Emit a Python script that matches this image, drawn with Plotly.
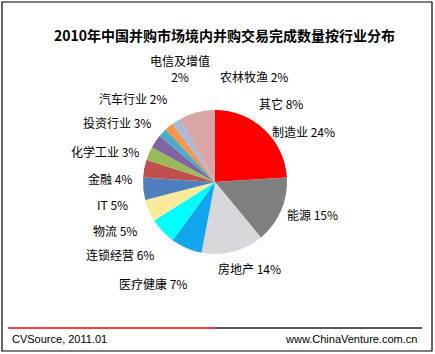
import plotly.graph_objects as go

W, H = 435, 354

categories = ["制造业", "能源", "房地产", "医疗健康", "连锁经营", "物流", "IT", "金融",
              "化学工业", "投资行业", "汽车行业", "电信及增值", "农林牧渔", "其它"]
shares = [24, 15, 14, 7, 6, 5, 5, 4, 3, 3, 2, 2, 2, 8]

colors = ["#ff0000", "#7f7f7f", "#d8d8dc", "#12a6ec", "#00ffff", "#f9eb99", "#4f7fbd",
          "#c0504d", "#9bbb59", "#8064a2", "#4bacc6", "#f79646", "#a9badb", "#d9a5a5"]

# label centre positions in pixels (layout only)
label_pos = [(303, 131), (312, 214), (249, 268), (153, 283), (120, 254), (115, 230),
             (113, 204), (110, 178), (105, 151), (117, 123), (133, 98), (180, 68),
             (254, 76), (281, 103)]

def px(x):
    return x / W

def py(y):
    return 1 - y / H

cx, cy, r = 215, 182, 72

fig = go.Figure(go.Pie(
    labels=categories,
    values=shares,
    sort=False,
    direction="clockwise",
    rotation=0,
    textinfo="none",
    hoverinfo="label+percent",
    marker=dict(colors=colors, line=dict(width=0)),
    domain=dict(x=[px(cx - r), px(cx + r)], y=[py(cy + r), py(cy - r)]),
    showlegend=False,
))

total = sum(shares)
annotations = []
for name, v, (lx, ly) in zip(categories, shares, label_pos):
    pct = round(v / total * 100)
    sep = "<br>" if name == "电信及增值" else " "
    annotations.append(dict(
        x=px(lx), y=py(ly), xref="paper", yref="paper",
        text=f"{name}{sep}{pct}%", showarrow=False,
        xanchor="center", yanchor="middle",
        font=dict(family="Noto Sans CJK SC", size=12, color="#000000"),
    ))

annotations.append(dict(
    x=px(224), y=py(35), xref="paper", yref="paper",
    text="<b>2010年中国并购市场境内并购交易完成数量按行业分布</b>", showarrow=False,
    xanchor="center", yanchor="middle",
    font=dict(family="Noto Sans CJK SC", size=14, color="#000000"),
))
annotations.append(dict(
    x=px(10), y=py(339), xref="paper", yref="paper",
    text="CVSource, 2011.01", showarrow=False,
    xanchor="left", yanchor="middle",
    font=dict(family="Liberation Sans", size=11, color="#000000"),
))
annotations.append(dict(
    x=px(419), y=py(339), xref="paper", yref="paper",
    text="www.ChinaVenture.com.cn", showarrow=False,
    xanchor="right", yanchor="middle",
    font=dict(family="Liberation Sans", size=11, color="#000000"),
))

shapes = [
    dict(type="rect", xref="paper", yref="paper", x0=px(2), x1=px(432), y0=py(351), y1=py(2),
         line=dict(color="#000000", width=1.2), fillcolor="rgba(0,0,0,0)"),
    dict(type="line", xref="paper", yref="paper", x0=px(8), x1=px(215), y0=py(328), y1=py(328),
         line=dict(color="#ff0000", width=1.5)),
    dict(type="line", xref="paper", yref="paper", x0=px(215), x1=px(422), y0=py(328), y1=py(328),
         line=dict(color="#222222", width=1.5)),
]

fig.update_layout(
    width=W, height=H,
    margin=dict(l=0, r=0, t=0, b=0),
    paper_bgcolor="#ffffff", plot_bgcolor="#ffffff",
    annotations=annotations, shapes=shapes,
)

fig.write_html("out.html")
